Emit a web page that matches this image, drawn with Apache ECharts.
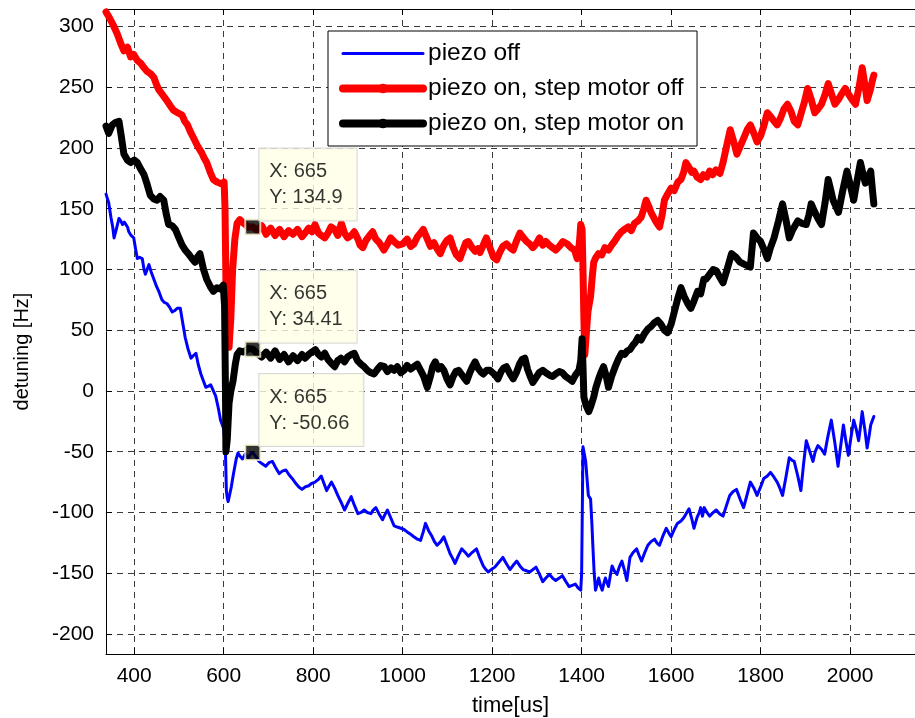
<!DOCTYPE html>
<html>
<head>
<meta charset="utf-8">
<script src="https://cdn.jsdelivr.net/npm/echarts@6/dist/echarts.min.js"></script>
<style>
html,body{margin:0;padding:0;background:#fff;}
#chart{width:915px;height:718px;}
</style>
</head>
<body>
<div id="chart"></div>
<script>
// ---- data (x in us, y in Hz) ----
const seriesNames = ['piezo off', 'piezo on, step motor off', 'piezo on, step motor on'];

const piezoOff = [
[337,162],[343,155],[348,143],[352,135],[355,126],[360,133],[366,142],[370,140],[374,137],[378,139],[381,140],[385,135],[388,131],[393,128],[399,126],[403,117],[407,109],[412,110],[418,109],[422,100],[425,96],[429,100],[433,104],[438,98],[444,92],[450,86],[455,82],[458,79],[462,75],[467,73],[473,72],[479,69],[485,65],[490,66],[496,68],[503,68],[509,55],[514,44],[520,35],[527,27],[532,29],[538,31],[543,22],[549,14],[555,8],[560,3],[566,4],[571,5],[577,0],[582,-4],[588,-14],[593,-24],[597,-28],[600,-31],[602,-40],[604,-51],[606,-82],[608,-88],[610,-91],[613,-86],[617,-79],[621,-70],[625,-62],[628,-56],[632,-51],[637,-54],[642,-56],[648,-52],[655,-55],[660,-52],[665,-50.66],[672,-54],[679,-58],[686,-60],[694,-62],[701,-59],[709,-58],[716,-63],[724,-68],[731,-66],[739,-65],[746,-69],[753,-72],[761,-76],[768,-79],[775,-81],[782,-79],[790,-78],[797,-76],[804,-75],[811,-73],[818,-70],[824,-76],[830,-82],[836,-78],[841,-75],[848,-80],[855,-86],[863,-92],[870,-98],[878,-92],[885,-87],[892,-94],[900,-101],[907,-100],[914,-98],[921,-100],[929,-101],[934,-98],[940,-96],[947,-101],[955,-106],[960,-102],[966,-98],[974,-105],[981,-111],[988,-112],[996,-113],[1003,-114],[1010,-116],[1018,-118],[1025,-120],[1033,-122],[1040,-123],[1046,-116],[1051,-109],[1058,-115],[1066,-120],[1071,-124],[1077,-127],[1085,-124],[1092,-120],[1099,-127],[1106,-134],[1112,-138],[1117,-142],[1124,-136],[1132,-130],[1140,-133],[1147,-136],[1155,-133],[1165,-130],[1172,-137],[1180,-144],[1186,-147],[1191,-149],[1198,-147],[1206,-145],[1215,-141],[1224,-137],[1230,-141],[1235,-144],[1240,-147],[1248,-143],[1255,-140],[1262,-144],[1269,-147],[1277,-148],[1284,-149],[1291,-147],[1298,-145],[1306,-151],[1313,-157],[1320,-154],[1328,-151],[1335,-154],[1342,-156],[1350,-154],[1357,-152],[1365,-157],[1372,-161],[1379,-160],[1386,-159],[1392,-162],[1398,-164],[1400,-150],[1402,-80],[1403,-46],[1406,-52],[1409,-58],[1412,-72],[1415,-86],[1420,-89],[1423,-110],[1425,-127],[1428,-150],[1431,-164],[1434,-160],[1438,-154],[1442,-160],[1446,-164],[1450,-158],[1453,-154],[1457,-158],[1460,-161],[1464,-152],[1468,-144],[1473,-148],[1479,-151],[1484,-145],[1490,-140],[1496,-148],[1501,-156],[1505,-145],[1508,-137],[1515,-133],[1523,-130],[1528,-135],[1534,-140],[1541,-133],[1548,-127],[1555,-124],[1563,-122],[1568,-125],[1574,-127],[1582,-119],[1589,-113],[1595,-117],[1600,-120],[1607,-114],[1614,-109],[1622,-107],[1629,-104],[1635,-100],[1640,-97],[1646,-105],[1651,-113],[1658,-104],[1663,-100],[1666,-96],[1670,-103],[1674,-96],[1680,-100],[1686,-103],[1694,-100],[1701,-98],[1708,-101],[1716,-103],[1723,-95],[1731,-86],[1738,-83],[1746,-81],[1754,-89],[1762,-96],[1770,-85],[1777,-75],[1785,-80],[1792,-86],[1800,-79],[1807,-72],[1815,-70],[1822,-67],[1830,-71],[1837,-75],[1843,-80],[1849,-86],[1857,-70],[1864,-55],[1870,-57],[1875,-58],[1883,-70],[1890,-82],[1896,-60],[1902,-41],[1910,-50],[1917,-58],[1922,-50],[1928,-45],[1936,-48],[1943,-52],[1950,-38],[1958,-24],[1966,-43],[1973,-62],[1979,-45],[1985,-28],[1990,-40],[1996,-53],[2002,-38],[2008,-24],[2014,-32],[2019,-41],[2023,-30],[2027,-17],[2033,-32],[2038,-47],[2042,-38],[2046,-28],[2050,-24],[2053,-21]
];

const piezoOnMotorOff = [
[337,312],[345,307],[352,302],[362,294],[370,286],[377,280],[385,283],[392,275],[399,277],[407,272],[414,270],[422,266],[429,263],[437,261],[444,258],[450,252],[455,248],[463,244],[473,239],[480,235],[488,231],[497,229],[507,227],[513,222],[519,219],[526,213],[533,208],[541,202],[551,196],[556,192],[562,188],[570,180],[577,174],[585,172],[592,171],[598,170],[601,172],[603,150],[605,90],[607,55],[610,42],[612,36],[616,60],[620,100],[625,125],[630,138],[636,141],[645,138],[655,135],[665,134.9],[675,132],[685,136],[695,129],[705,134],[715,128],[725,133],[735,127],[745,132],[755,129],[765,133],[775,127],[782,130],[790,134],[797,131],[804,137],[812,130],[818,128],[826,126],[833,130],[840,135],[848,133],[855,128],[863,138],[870,130],[877,126],[885,128],[892,131],[900,125],[905,120],[911,118],[918,124],[926,128],[933,131],[940,125],[948,122],[958,116],[966,121],[973,126],[981,123],[990,120],[1000,121],[1010,125],[1018,119],[1025,121],[1033,127],[1040,130],[1046,133],[1054,126],[1062,119],[1070,122],[1077,117],[1084,113],[1092,120],[1099,124],[1106,126],[1113,118],[1120,112],[1128,109],[1135,116],[1141,122],[1147,123],[1155,118],[1162,115],[1168,117],[1173,114],[1180,120],[1187,126],[1195,118],[1203,110],[1210,108],[1217,114],[1224,119],[1232,121],[1240,118],[1247,116],[1255,124],[1262,130],[1270,126],[1277,123],[1284,121],[1291,118],[1298,121],[1306,126],[1313,120],[1320,123],[1328,120],[1335,118],[1342,116],[1350,119],[1358,123],[1368,121],[1376,118],[1384,116],[1390,109],[1395,122],[1398,137],[1401,133],[1403,100],[1405,60],[1407,30],[1410,45],[1414,65],[1420,78],[1424,95],[1427,106],[1432,110],[1438,113],[1445,112],[1452,118],[1460,116],[1467,120],[1475,124],[1482,128],[1489,131],[1496,133],[1504,135],[1511,132],[1518,138],[1526,140],[1533,143],[1539,150],[1544,157],[1550,152],[1555,147],[1559,147],[1565,140],[1570,137],[1574,135],[1580,145],[1585,157],[1592,162],[1600,167],[1607,165],[1615,172],[1622,174],[1628,180],[1633,188],[1640,184],[1646,180],[1651,181],[1658,176],[1666,174],[1672,178],[1680,176],[1686,181],[1693,178],[1700,182],[1709,179],[1716,188],[1723,200],[1732,215],[1740,205],[1747,195],[1755,202],[1762,208],[1770,215],[1777,219],[1785,212],[1792,205],[1800,210],[1807,218],[1815,229],[1822,226],[1830,222],[1837,219],[1845,225],[1852,232],[1860,236],[1868,230],[1875,222],[1883,219],[1890,228],[1898,238],[1905,249],[1913,240],[1921,229],[1928,232],[1936,236],[1944,244],[1951,253],[1958,245],[1966,236],[1974,240],[1982,245],[1989,249],[1997,244],[2004,240],[2012,236],[2020,250],[2027,266],[2033,252],[2038,239],[2042,244],[2046,249],[2050,256],[2053,260]
];

const piezoOnMotorOn = [
[337,218],[343,212],[351,219],[358,221],[366,222],[371,210],[377,195],[385,190],[392,188],[400,190],[407,188],[414,183],[422,178],[429,170],[436,161],[444,158],[451,157],[458,160],[466,157],[472,145],[477,137],[485,136],[492,133],[500,126],[507,120],[514,116],[521,113],[529,109],[536,106],[541,110],[547,113],[555,100],[562,92],[570,86],[577,82],[585,85],[592,84],[599,87],[602,70],[604,0],[605,-50],[608,-40],[612,-10],[616,0],[621,8.5],[626,22],[630,30],[636,33],[645,32],[655,35],[665,34.41],[675,31],[685,28],[695,32],[705,27],[715,33],[725,26],[735,30],[745,24],[755,29],[765,25],[775,30],[782,27],[790,30],[797,32],[805,34],[812,30],[818,28],[826,31],[833,26],[840,23],[848,20],[855,25],[862,27],[870,24],[877,28],[885,30],[892,31],[899,25],[907,22],[914,20],[921,17],[929,15],[936,14],[944,18],[951,21],[959,20],[966,16],[974,19],[981,17],[988,20],[996,15],[1003,17],[1010,21],[1018,18],[1025,20],[1033,22],[1040,17],[1047,12],[1055,3],[1062,12],[1067,20],[1073,24],[1080,18],[1086,20],[1092,17],[1099,10],[1106,5],[1113,12],[1119,16],[1125,17],[1131,14],[1137,11],[1143,8],[1150,15],[1156,20],[1162,24],[1168,19],[1174,16],[1180,14],[1188,17],[1195,17],[1201,15],[1207,13],[1213,10],[1220,16],[1226,19],[1232,20],[1240,14],[1247,10],[1254,15],[1261,22],[1267,26],[1273,27],[1279,18],[1285,12],[1291,7],[1298,11],[1305,15],[1313,17],[1320,15],[1328,13],[1335,12],[1342,14],[1350,16],[1357,15],[1364,12],[1372,10],[1379,8],[1386,13],[1394,17],[1398,25],[1401,43],[1403,20],[1405,-5],[1410,-12],[1416,-17],[1421,-12],[1427,-5],[1432,3],[1438,10],[1443,15],[1449,20],[1455,12],[1460,3],[1467,12],[1475,20],[1482,26],[1489,31],[1496,30],[1502,33],[1508,34],[1515,38],[1520,40],[1526,44],[1533,42],[1540,47],[1548,51],[1555,53],[1562,56],[1570,58],[1577,55],[1585,50],[1592,48],[1600,55],[1607,65],[1614,75],[1622,85],[1629,78],[1637,72],[1644,68],[1651,74],[1659,82],[1666,80],[1673,92],[1678,92],[1686,96],[1694,100],[1701,99],[1708,94],[1716,89],[1725,100],[1735,113],[1745,110],[1754,106],[1765,104],[1777,102],[1784,130],[1792,126],[1800,123],[1808,116],[1815,109],[1822,118],[1830,126],[1840,140],[1849,154],[1857,140],[1864,126],[1872,133],[1883,140],[1892,138],[1902,137],[1908,145],[1913,154],[1920,148],[1928,142],[1936,137],[1944,155],[1951,174],[1957,165],[1962,157],[1968,152],[1974,147],[1983,164],[1993,181],[2000,170],[2008,157],[2015,172],[2023,188],[2028,180],[2034,171],[2040,176],[2046,181],[2050,165],[2053,154]
];

// data tips
const tipX = [665, 665, 665];
const tipY = [134.9, 34.41, -50.66];
const tipText = ['134.9', '34.41', '-50.66'];

// axes
const xMin = 337, xMax = 2145;
const yMin = -216.5, yMax = 314.4;
const xTickStep = 200, yTickStep = 50;

const FONT = 'Liberation Sans, Arial, Helvetica, sans-serif';
const chart = echarts.init(document.getElementById('chart'), null, {renderer: 'canvas'});

const gridLine = {show: true, showMinLine: false, showMaxLine: false,
  lineStyle: {color: '#3a3a3a', width: 1, type: [6, 5]}};

const option = {
  animation: false,
  backgroundColor: '#ffffff',
  textStyle: {fontFamily: FONT, color: '#000'},
  grid: {left: 106, top: 9, right: 0, bottom: 64, containLabel: false, outerBoundsMode: 'none'},
  legend: {
    orient: 'vertical', left: 328, top: 31,
    padding: [10, 13, 10, 11], itemGap: 10, itemWidth: 80, itemHeight: 12,
    backgroundColor: '#fff', borderColor: '#000', borderWidth: 1,
    textStyle: {fontSize: 24.5, color: '#000', fontFamily: FONT, lineHeight: 25},
    selectedMode: false,
    data: [
      {name: seriesNames[0], lineStyle: {width: 3, color: '#0000ff'},
       itemStyle: {color: 'rgba(0,0,0,0)', borderWidth: 0}},
      {name: seriesNames[1], lineStyle: {width: 8, color: '#ff0000'}, itemStyle: {color: '#ff0000'}},
      {name: seriesNames[2], lineStyle: {width: 8, color: '#000000'}, itemStyle: {color: '#000000'}}
    ]
  },
  xAxis: [{
    type: 'value', min: xMin, max: xMax, splitNumber: 9,
    name: 'time[us]', nameLocation: 'middle', nameGap: 41,
    nameTextStyle: {fontSize: 22, color: '#000', fontFamily: FONT},
    axisLine: {show: true, onZero: false, lineStyle: {color: '#000', width: 1}},
    axisTick: {show: true, inside: true, length: 6, lineStyle: {color: '#000'}},
    axisLabel: {fontSize: 21, color: '#000', margin: 12, fontFamily: FONT,
      formatter: v => (Math.abs(v % xTickStep) < 1e-6 ? String(v) : '')},
    splitLine: gridLine
  }, {
    type: 'value', min: xMin, max: xMax, splitNumber: 9, position: 'top',
    axisLine: {show: true, onZero: false, lineStyle: {color: '#000', width: 1}},
    axisTick: {show: true, inside: true, length: 6, lineStyle: {color: '#000'}},
    axisLabel: {show: false}, splitLine: {show: false}
  }],
  yAxis: [{
    type: 'value', min: yMin, max: yMax, splitNumber: 10,
    name: 'detuning [Hz]', nameLocation: 'middle', nameGap: 74, nameRotate: 90,
    nameTextStyle: {fontSize: 20, color: '#000', fontFamily: FONT, padding: [0, 40, 0, 0]},
    axisLine: {show: true, onZero: false, lineStyle: {color: '#000', width: 1}},
    axisTick: {show: true, inside: true, length: 6, lineStyle: {color: '#000'}},
    axisLabel: {fontSize: 21, color: '#000', margin: 12, fontFamily: FONT,
      formatter: v => (Math.abs(v % yTickStep) < 1e-6 ? String(v) : '')},
    splitLine: gridLine
  }],
  series: [
    {name: seriesNames[0], type: 'line', data: piezoOff, symbol: 'none', z: 2,
     lineStyle: {color: '#0000ff', width: 3, join: 'round', cap: 'round'}, itemStyle: {color: '#0000ff'}},
    {name: seriesNames[1], type: 'line', data: piezoOnMotorOff, symbol: 'circle', symbolSize: 5, showSymbol: false, z: 3,
     lineStyle: {color: '#ff0000', width: 7, join: 'round', cap: 'round'}, itemStyle: {color: '#ff0000'}},
    {name: seriesNames[2], type: 'line', data: piezoOnMotorOn, symbol: 'circle', symbolSize: 5, showSymbol: false, z: 4,
     lineStyle: {color: '#000000', width: 7, join: 'round', cap: 'round'}, itemStyle: {color: '#000000'}},
    {name: 'datatips', type: 'scatter', z: 10, symbol: 'rect', symbolSize: 15,
     itemStyle: {color: '#000', borderColor: '#f7f4d2', borderWidth: 2},
     data: tipX.map((x, i) => ({
       value: [x, tipY[i]],
       label: {
         show: true, position: [15, -70],
         formatter: 'X: ' + x + '\nY: ' + tipText[i],
         fontSize: 20, lineHeight: 26, color: '#000', fontFamily: FONT, align: 'left', verticalAlign: 'top',
         backgroundColor: '#ffffe6', borderColor: '#cfcfcf', borderWidth: 1,
         padding: [10, 14, 10, 10]
       }
     }))
    }
  ]
};
chart.setOption(option);
</script>
</body>
</html>
